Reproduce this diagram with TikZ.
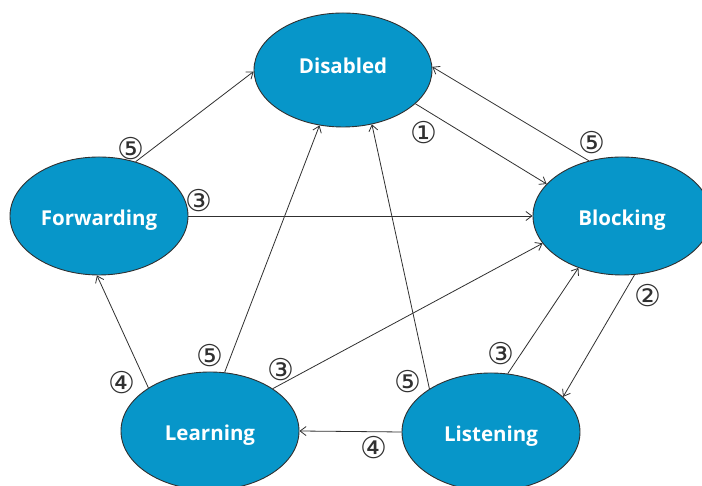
\documentclass[tikz,border=0pt]{standalone}
\usepackage{fontspec}
\setmainfont{Open Sans}
\newfontfamily\symfont{DejaVu Sans}
\usetikzlibrary{shapes.geometric,arrows.meta}
\definecolor{stateblue}{HTML}{0796C9}
\definecolor{lineclr}{HTML}{303030}
\tikzset{
  state/.style={ellipse, draw=lineclr, line width=0.9pt, fill=stateblue, minimum width=178pt, minimum height=118pt, inner sep=0pt, text=white, text height=19pt, text depth=0pt, font=\fontsize{20.5}{22}\selectfont\bfseries},
  conn/.style={draw=lineclr, line width=0.8pt, -{Straight Barb[length=6pt,width=9pt]}},
  num/.style={inner sep=0pt, font=\symfont\fontsize{30}{30}\selectfont, text=lineclr}
}
\begin{document}
\begin{tikzpicture}[x=1pt,y=1pt]
\useasboundingbox (0,0) rectangle (702,486);
\clip (0,0) rectangle (702,486);
\fill[white] (0,0) rectangle (702,486);
\node[state, minimum height=114pt, text height=8pt] (dis) at (343,416) {Disabled};
\node[state] (fwd) at (99,270) {Forwarding};
\node[state] (blk) at (622,270) {Blocking};
\node[state] (lrn) at (210,55) {Learning};
\node[state] (lis) at (491,54) {Listening};
% connectors
\draw[conn] (fwd.56) -- (dis.181);
\draw[conn] (dis.335) -- (blk.157);
\draw[conn] (blk.121) -- (dis.2);
\draw[conn] (fwd.0) -- (blk.180);
\draw[conn] (blk.282) -- (lis.26);
\draw[conn] (lis.74) -- (blk.230);
\draw[conn] (lis.145) -- (dis.298);
\draw[conn] (lis.180) -- (lrn.0);
\draw[conn] (lrn.145) -- (fwd.268);
\draw[conn] (lrn.76) -- (dis.247);
\draw[conn] (lrn.34) -- (blk.199);
% labels
\node[num] (n1) at (424,353) {①};
\node[num] (n5b) at (592,343) {⑤};
\node[num] (n5f) at (131,337) {⑤};
\node[num] (n3f) at (199,285) {③};
\node[num] (n2) at (648,190) {②};
\node[num] (n3l) at (281,116) {③};
\node[num] (n5l) at (210,130) {⑤};
\node[num] (n4l) at (122,103) {④};
\node[num] (n3s) at (501,132) {③};
\node[num] (n5s) at (408,104) {⑤};
\node[num] (n4s) at (374,38) {④};
\end{tikzpicture}
\end{document}
